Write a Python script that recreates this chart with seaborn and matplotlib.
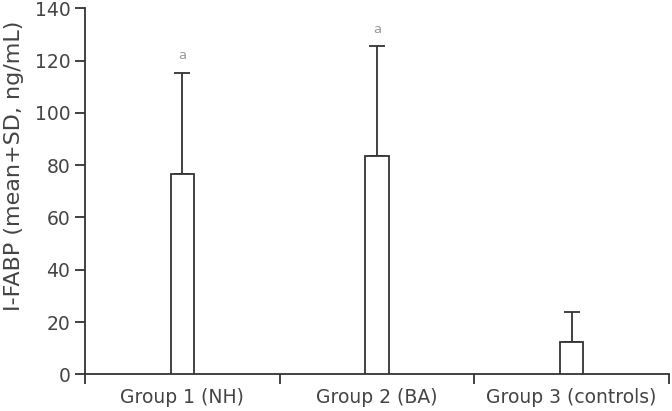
import numpy as np
import pandas as pd
import seaborn as sns
import matplotlib.pyplot as plt

# data
groups = ["Group 1 (NH)", "Group 2 (BA)", "Group 3 (controls)"]
means = [76.5, 83.4, 12.2]
sds = [38.9, 42.0, 11.5]
marks = ["a", "a", ""]

df = pd.DataFrame({"group": groups, "mean": means})

sns.set_style("white")
plt.rcParams["font.family"] = ["DejaVu Sans"]

fig = plt.figure(figsize=(6.72, 4.11), dpi=100)
ax = fig.add_axes([0.1265, 0.0893, 0.869, 0.8905])

sns.barplot(data=df, x="group", y="mean", width=0.12, color="white",
            edgecolor="#333333", linewidth=1.3, ax=ax, zorder=3)

x = np.arange(len(groups))
ax.errorbar(x, means, yerr=[np.zeros(len(sds)), sds], fmt="none",
            ecolor="#333333", elinewidth=1.3, capsize=6, capthick=1.3, zorder=2)

# significance marks
for xi, m, s, t in zip(x, means, sds, marks):
    if t:
        ax.text(xi, m + s + 4, t, ha="center", va="bottom", fontsize=9.5, color="#999999")

ax.set_xlim(-0.5, 2.5)
ax.set_ylim(0, 140)
ax.set_yticks(range(0, 141, 20))
ax.set_xticks(x)
ax.set_xticklabels(groups)
ax.set_xticks([-0.5, 0.5, 1.5, 2.5], minor=True)
ax.tick_params(axis="x", which="major", bottom=False, length=0, pad=10,
               labelsize=13.5, labelcolor="#444444")
ax.tick_params(axis="x", which="minor", bottom=True, length=7, width=1.3,
               color="#333333", direction="out")
ax.tick_params(axis="y", left=True, length=7, width=1.3, color="#333333", direction="out",
               labelsize=13.5, labelcolor="#444444")

ax.set_xlabel("")
ax.set_ylabel("I-FABP (mean+SD, ng/mL)", fontsize=16, color="#444444", labelpad=9)
ax.yaxis.set_label_coords(-0.105, 0.57)

sns.despine(ax=ax)
for sp in ["left", "bottom"]:
    ax.spines[sp].set_color("#333333")
    ax.spines[sp].set_linewidth(1.3)

fig.savefig("out.png", dpi=100)
